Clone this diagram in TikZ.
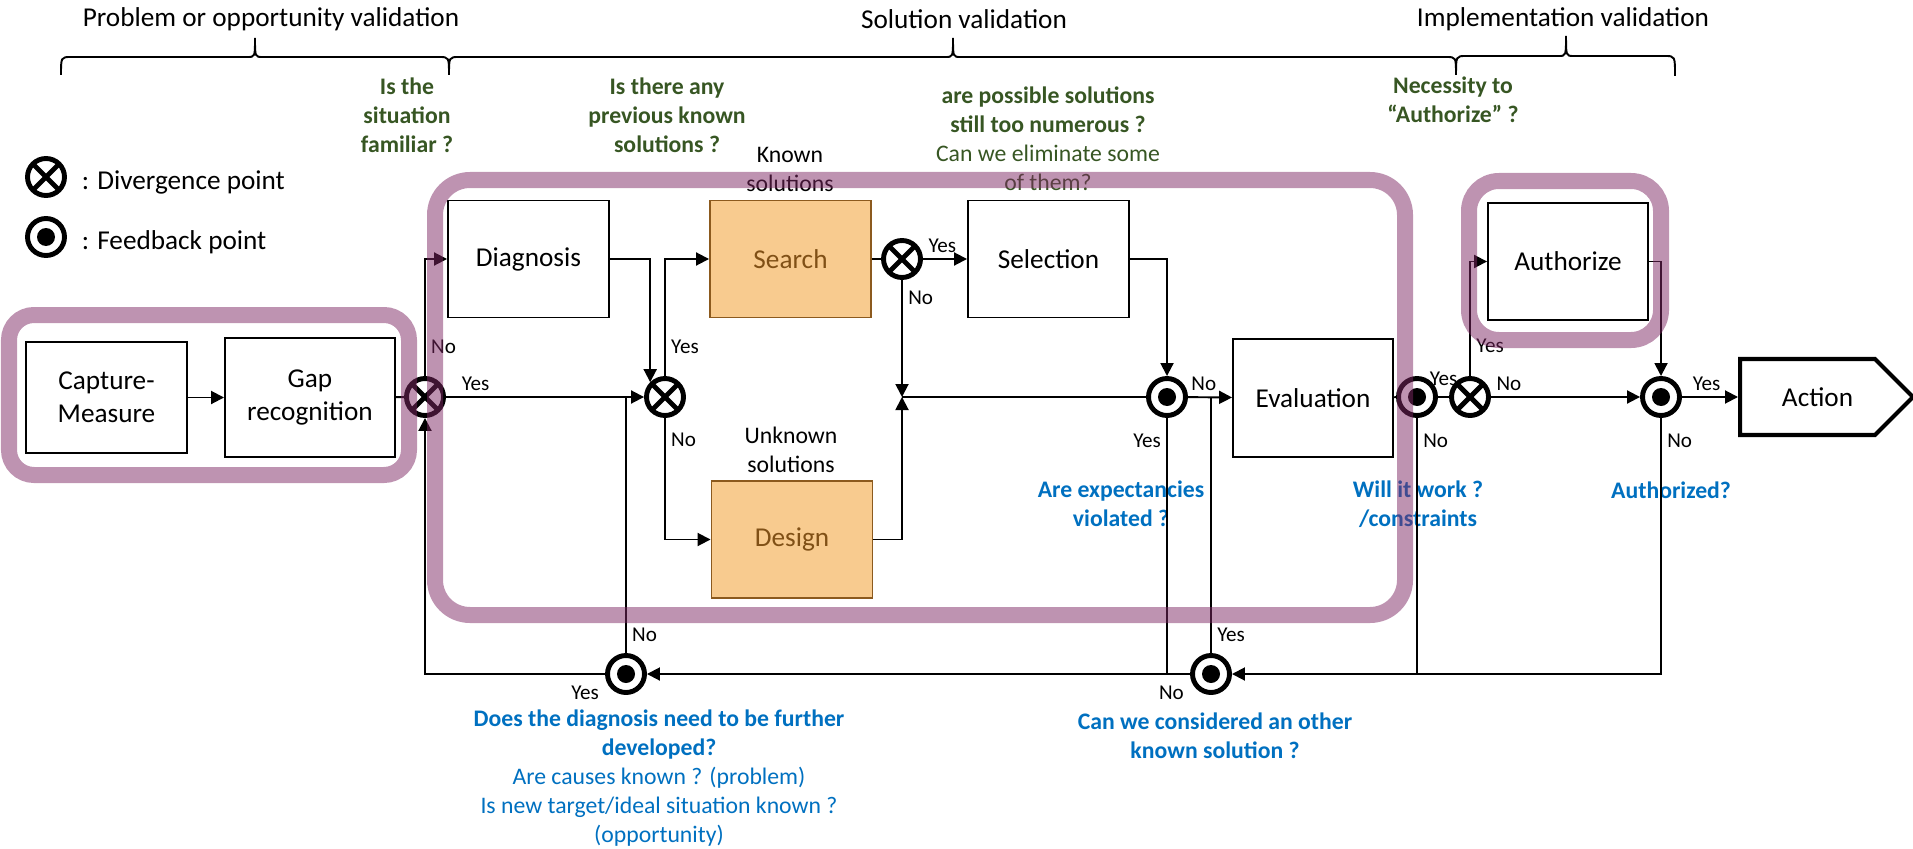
\documentclass[tikz,border=0pt]{standalone}
\usepackage{fontspec}
\setmainfont{Carlito}
\usetikzlibrary{shapes.geometric, shapes.symbols, arrows.meta}
\usepackage{xcolor}

\definecolor{zonepink}{RGB}{126,40,100}
\definecolor{askgreen}{RGB}{55,86,35}
\definecolor{checkblue}{RGB}{0,112,192}
\definecolor{taskfill}{RGB}{248,203,143}
\definecolor{taskline}{RGB}{140,90,30}
\definecolor{tasktext}{RGB}{128,80,22}

\begin{document}
\begin{tikzpicture}[
    box/.style={rectangle, draw, line width=1.1pt, minimum width=3.22cm, minimum height=2.34cm, align=center, font=\fontsize{15.5}{18.5}\selectfont},
    task/.style={box, fill=taskfill, draw=taskline, text=tasktext},
    divpt/.style={circle, draw, line width=2.8pt, minimum size=0.74cm, inner sep=0pt,
        path picture={\draw[line width=2.8pt] (path picture bounding box.north west) -- (path picture bounding box.south east)
            (path picture bounding box.north east) -- (path picture bounding box.south west);}},
    fbpt/.style={circle, draw, line width=2.8pt, minimum size=0.74cm, inner sep=0pt,
        path picture={\fill (path picture bounding box.center) circle (0.18cm);}},
    act/.style={signal, signal to=east, signal pointer angle=90, draw, line width=2.3pt, minimum width=3.46cm, minimum height=1.52cm, font=\fontsize{15.5}{18.5}\selectfont},
    lbl/.style={font=\fontsize{12}{14}\selectfont, inner sep=3pt},
    note/.style={align=center, font=\fontsize{13.5}{16.5}\selectfont},
    ask/.style={note, text=askgreen},
    check/.style={note, text=checkblue},
    phase/.style={font=\fontsize{15.5}{18.5}\selectfont},
    zone/.style={draw=zonepink, draw opacity=0.5, line width=0.32cm},
    >={Triangle[length=2.6mm, width=2.6mm]},
    line width=1.1pt
]
\useasboundingbox (0,0) rectangle (38.26,16.96);

% Phases (braces on top)
\node[phase] (ph1) at (5.42, 16.58) {Problem or opportunity validation};
\node[phase] (ph2) at (19.28, 16.58) {Solution validation};
\node[phase] (ph3) at (31.26, 16.58) {Implementation validation};
\draw (1.22,15.46) .. controls (1.22,15.82) .. (1.42,15.82) -- (4.95,15.82) .. controls (5.1,15.82) .. (5.1,16.2)
    .. controls (5.1,15.82) .. (5.25,15.82) -- (8.78,15.82) .. controls (8.98,15.82) .. (8.98,15.46);
\draw (8.98,15.46) .. controls (8.98,15.82) .. (9.18,15.82) -- (18.91,15.82) .. controls (19.06,15.82) .. (19.06,16.2)
    .. controls (19.06,15.82) .. (19.21,15.82) -- (28.92,15.82) .. controls (29.12,15.82) .. (29.12,15.46);
\draw (29.12,15.46) .. controls (29.12,15.84) .. (29.32,15.84) -- (31.17,15.84) .. controls (31.32,15.84) .. (31.32,16.24)
    .. controls (31.32,15.84) .. (31.47,15.84) -- (33.3,15.84) .. controls (33.5,15.84) .. (33.5,15.44);

% Legend
\node[divpt] (lgdiv) at (0.92, 13.42) {};
\node[phase, anchor=west] (lgdivtxt) at (1.5, 13.32) {: Divergence point};
\node[fbpt] (lgfb) at (0.92, 12.22) {};
\node[phase, anchor=west] (lgfbtxt) at (1.5, 12.12) {: Feedback point};

% Questions
\node[ask] (q1) at (8.14, 14.66) {\bfseries Is the\\\bfseries situation\\\bfseries familiar ?};
\node[ask] (q2) at (13.34, 14.66) {\bfseries Is there any\\\bfseries previous known\\\bfseries solutions ?};
\node[ask] (q3) at (20.96, 14.18) {\bfseries are possible solutions\\\bfseries still too numerous ?\\Can we eliminate some\\of them?};
\node[ask] (q4) at (29.06, 14.96) {\bfseries Necessity to\\\bfseries “Authorize” ?};
\node[check] (q5) at (22.42, 6.88) {\bfseries Are expectancies\\\bfseries violated ?};
\node[check] (q6) at (28.36, 6.88) {\bfseries Will it work ?\\\bfseries /constraints};
\node[check] (q7) at (33.42, 7.16) {\bfseries Authorized?};
\node[check] (q8) at (13.18, 1.4) {\bfseries Does the diagnosis need to be further\\\bfseries developed?\\Are causes known ? (problem)\\Is new target/ideal situation known ?\\(opportunity)};
\node[check] (q9) at (24.3, 2.24) {\bfseries Can we considered an other\\\bfseries known solution ?};
\node[note] (knownlbl) at (15.8, 13.58) {Known\\solutions};
\node[note] (unknownlbl) at (15.82, 7.96) {Unknown\\solutions};

% Boxes
\node[box, minimum height=2.22cm] (cap) at (2.13, 9.01) {Capture-\\Measure};
\node[box, minimum width=3.4cm, minimum height=2.38cm] (gap) at (6.2, 9.01) {Gap\\recognition};
\node[box] (diag) at (10.57, 11.78) {Diagnosis};
\node[task] (search) at (15.81, 11.78) {Search};
\node[task] (design) at (15.84, 6.17) {Design};
\node[box] (sel) at (20.97, 11.78) {Selection};
\node[box, minimum width=3.2cm, minimum height=2.36cm] (eval) at (26.26, 9.0) {Evaluation};
\node[box, minimum width=3.2cm] (auth) at (31.36, 11.73) {Authorize};
\node[act, anchor=west] (act) at (34.76, 9.02) {\hspace{0.4cm}Action};

% Divergence and feedback points
\node[divpt] (d1) at (8.5, 9.02) {};
\node[divpt] (d2) at (13.3, 9.02) {};
\node[divpt] (d3) at (18.04, 11.78) {};
\node[divpt] (d4) at (29.4, 9.02) {};
\coordinate (junc) at (18.04, 9.02);
\node[fbpt] (f1) at (23.34, 9.02) {};
\node[fbpt] (f2) at (28.34, 9.02) {};
\node[fbpt] (f5) at (33.22, 9.02) {};
\node[fbpt] (f3) at (12.52, 3.48) {};
\node[fbpt] (f4) at (24.22, 3.48) {};

% Forward flow
\draw[->] (cap) -- (gap);
\draw (gap) -- (d1);
\draw[->] (d1) |- node[lbl, pos=0.125, right] {No} (diag);
\draw[->] (d1) -- node[lbl, pos=0.15, above] {Yes} (d2);
\draw[->] (diag) -| (d2.north west);
\draw[->] (d2) |- node[lbl, pos=0.125, right] {Yes} (search);
\draw[->] (d2) |- node[lbl, pos=0.09, right] {No} (design);
\draw (search) -- (d3);
\draw[->] (d3) -- node[lbl, pos=0.44, above] {Yes} (sel);
\draw[->] (d3) -- node[lbl, pos=0.15, right] {No} (junc);
\draw[->] (design) -| (junc);
\draw (junc) -- (f1);
\draw[->] (sel) -| (f1);
\draw[->] (f1) -- node[lbl, pos=0.36, above] {No} (eval);
\draw (eval) -- (f2);
\draw (f2) -- node[lbl, above, yshift=3pt] {Yes} (d4);
\draw[->] (d4) |- node[lbl, pos=0.13, right] {Yes} (auth);
\draw[->] (d4) -- node[lbl, pos=0.12, above] {No} (f5);
\draw[->] (auth) -| (f5);
\draw[->] (f5) -- node[lbl, pos=0.44, above] {Yes} (act);

% Feedback loops
\draw (f1) -- node[lbl, pos=0.09, left] {Yes} (f1 |- f4);
\draw (f2) -- node[lbl, pos=0.09, right] {No} (f2 |- f4);
\draw[->] (f5) |- node[lbl, pos=0.045, right] {No} (f4);
\draw[->] (f4) -- node[lbl, pos=0, below left, yshift=-3pt] {No} (f3);
\draw (f4) -- node[lbl, pos=0.07, right] {Yes} (f4 |- f1);
\draw[->] (f3) -| node[lbl, pos=0, below left, yshift=-3pt] {Yes} (d1);
\draw (f3) -- node[lbl, pos=0.07, right] {No} (f3 |- d1);

% Zones
\draw[zone, rounded corners=0.5cm] (0.18, 7.46) rectangle (8.18, 10.66);
\draw[zone, rounded corners=0.7cm] (8.7, 4.66) rectangle (28.1, 13.36);
\draw[zone, rounded corners=0.6cm] (29.38, 10.16) rectangle (33.22, 13.34);

\end{tikzpicture}
\end{document}
